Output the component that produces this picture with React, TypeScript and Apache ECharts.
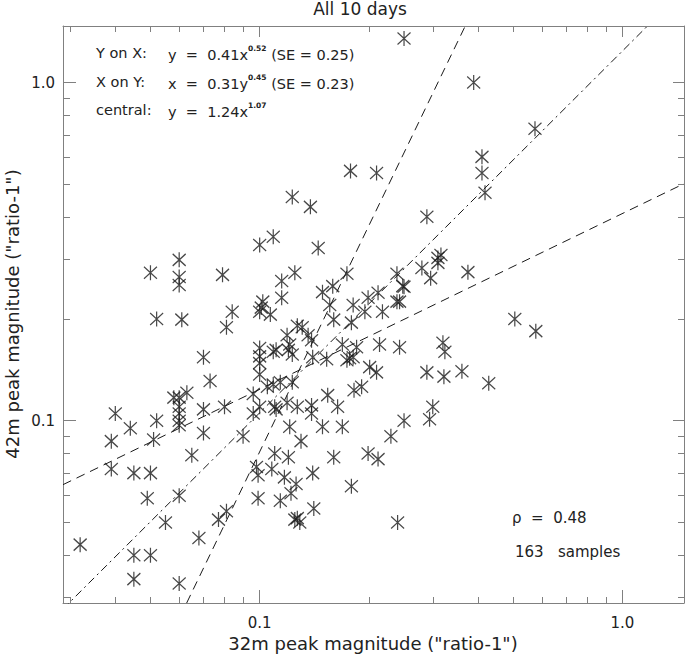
import React, { useEffect, useRef } from 'react';
import * as echarts from 'echarts';

// Axis ranges (log-log)
const X_MIN = 0.0287;
const X_MAX = 1.478;
const Y_MIN = 0.0289;
const Y_MAX = 1.47;

const majorTicks = [0.1, 1.0];
const majorTickLabels = ['0.1', '1.0'];
const minorTicks = [0.03, 0.04, 0.05, 0.06, 0.07, 0.08, 0.09, 0.2, 0.3, 0.4, 0.5, 0.6, 0.7, 0.8, 0.9];

// 163 samples: 32m peak magnitude (x) and 42m peak magnitude (y)
const x32m = [
  0.250, 0.389, 0.574, 0.410, 0.410, 0.418, 0.178, 0.210, 0.123, 0.138,
  0.289, 0.100, 0.109, 0.145, 0.310, 0.310, 0.280, 0.296, 0.375, 0.250,
  0.243, 0.505, 0.577, 0.320, 0.324, 0.289, 0.322, 0.361, 0.428, 0.300,
  0.294, 0.250, 0.230, 0.199, 0.212, 0.179, 0.240, 0.243, 0.050, 0.060,
  0.060, 0.060, 0.079, 0.052, 0.061, 0.081, 0.084, 0.125, 0.115, 0.115,
  0.102, 0.100, 0.107, 0.174, 0.159, 0.149, 0.156, 0.160, 0.181, 0.179,
  0.195, 0.199, 0.212, 0.218, 0.239, 0.248, 0.239, 0.127, 0.131, 0.119,
  0.136, 0.139, 0.100, 0.100, 0.100, 0.100, 0.109, 0.120, 0.123, 0.140,
  0.153, 0.169, 0.185, 0.174, 0.181, 0.214, 0.201, 0.210, 0.114, 0.109,
  0.123, 0.105, 0.096, 0.154, 0.182, 0.191, 0.100, 0.110, 0.111, 0.119,
  0.127, 0.139, 0.139, 0.164, 0.096, 0.121, 0.149, 0.169, 0.090, 0.130,
  0.110, 0.120, 0.160, 0.098, 0.099, 0.108, 0.117, 0.126, 0.140, 0.122,
  0.099, 0.114, 0.141, 0.125, 0.129, 0.040, 0.039, 0.044, 0.039, 0.045,
  0.050, 0.051, 0.052, 0.049, 0.060, 0.055, 0.045, 0.050, 0.045, 0.060,
  0.068, 0.077, 0.081, 0.065, 0.070, 0.070, 0.080, 0.070, 0.073, 0.058,
  0.060, 0.063, 0.060, 0.060, 0.060, 0.060, 0.032, 0.316, 0.127, 0.121,
  0.111, 0.101, 0.177,
];
const y42m = [
  1.35, 1.00, 0.730, 0.603, 0.540, 0.472, 0.548, 0.540, 0.459, 0.429,
  0.401, 0.331, 0.350, 0.324, 0.303, 0.293, 0.283, 0.264, 0.275, 0.249,
  0.225, 0.200, 0.184, 0.170, 0.160, 0.139, 0.135, 0.140, 0.129, 0.110,
  0.101, 0.100, 0.090, 0.080, 0.077, 0.064, 0.050, 0.165, 0.274, 0.299,
  0.266, 0.252, 0.270, 0.200, 0.199, 0.189, 0.210, 0.274, 0.259, 0.231,
  0.225, 0.210, 0.206, 0.272, 0.250, 0.240, 0.220, 0.199, 0.220, 0.195,
  0.210, 0.231, 0.239, 0.210, 0.272, 0.250, 0.225, 0.191, 0.189, 0.179,
  0.179, 0.173, 0.164, 0.155, 0.148, 0.137, 0.160, 0.162, 0.157, 0.154,
  0.152, 0.168, 0.165, 0.151, 0.154, 0.168, 0.144, 0.139, 0.130, 0.128,
  0.130, 0.126, 0.120, 0.119, 0.123, 0.126, 0.110, 0.110, 0.108, 0.113,
  0.110, 0.111, 0.105, 0.110, 0.105, 0.096, 0.096, 0.096, 0.090, 0.087,
  0.080, 0.078, 0.078, 0.073, 0.069, 0.072, 0.068, 0.065, 0.070, 0.061,
  0.059, 0.058, 0.055, 0.051, 0.050, 0.105, 0.087, 0.095, 0.072, 0.070,
  0.070, 0.088, 0.100, 0.059, 0.060, 0.050, 0.040, 0.040, 0.034, 0.033,
  0.045, 0.051, 0.054, 0.079, 0.092, 0.108, 0.110, 0.154, 0.131, 0.117,
  0.117, 0.121, 0.110, 0.105, 0.100, 0.097, 0.043, 0.309, 0.0515, 0.168,
  0.162, 0.216, 0.153,
];

// Fitted power laws
const fitYonX = { a: 0.41, b: 0.52 }; // y = a x^b
const fitXonY = { a: 0.31, b: 0.45 }; // x = a y^b
const fitCentral = { a: 1.24, b: 1.07 }; // y = a x^b

const rho = '0.48';
const nSamples = 163;

const FONT = '"DejaVu Sans", "Noto Sans", sans-serif';
const AXIS_COLOR = '#808080';
const TEXT_COLOR = '#222';
const MARK_COLOR = '#1a1a1a';

const log10 = (v: number) => Math.log10(v);

function labelFor(v: number): string {
  for (let i = 0; i < majorTicks.length; i++) {
    if (Math.abs(log10(majorTicks[i]) - v) < 1e-6) return majorTickLabels[i];
  }
  return '';
}

function decoAxis(pos: string, min: number, max: number, ticks: number[], len: number, withLine: boolean, labelMargin: number | null) {
  return {
    type: 'value',
    position: pos,
    gridIndex: 0,
    min: log10(min),
    max: log10(max),
    silent: true,
    splitLine: { show: false },
    axisLine: { show: withLine, onZero: false, lineStyle: { color: AXIS_COLOR, width: 1 } },
    axisTick: {
      show: true,
      inside: true,
      length: len,
      customValues: ticks.map(log10),
      lineStyle: { color: AXIS_COLOR, width: 1 },
    },
    axisLabel:
      labelMargin !== null
        ? {
            show: true,
            customValues: majorTicks.map(log10),
            formatter: (v: number) => labelFor(v),
            margin: labelMargin,
            fontSize: 15,
            fontFamily: FONT,
            color: TEXT_COLOR,
          }
        : { show: false },
  };
}

const ASTERISK = 'path://M6.5,0L6.5,15M0,1.5L13,13.5M0,13.5L13,1.5';

export default function App() {
  const ref = useRef<HTMLDivElement>(null);

  useEffect(() => {
    if (!ref.current) return;
    const chart = echarts.init(ref.current, null, { renderer: 'svg' });

    const points = x32m.map((x, i) => [x, y42m[i]]);
    const yOnX = [X_MIN, X_MAX].map((x) => [x, fitYonX.a * Math.pow(x, fitYonX.b)]);
    const xOnY = [Y_MIN, Y_MAX].map((y) => [fitXonY.a * Math.pow(y, fitXonY.b), y]);
    const central = [X_MIN, X_MAX].map((x) => [x, fitCentral.a * Math.pow(x, fitCentral.b)]);

    const txt = (x: number, y: number, text: string, size = 15, align = 'left') => ({
      type: 'text',
      x,
      y,
      silent: true,
      style: {
        text,
        font: `${size}px ${FONT}`,
        fill: TEXT_COLOR,
        align,
        textAlign: align,
        verticalAlign: 'middle',
        textVerticalAlign: 'middle',
      },
    });

    const richTxt = (x: number, y: number, before: string, sup: string, after: string) => ({
      type: 'text',
      x,
      y,
      silent: true,
      style: {
        text: `{m|${before}}{s|${sup}}{m|${after}}`,
        align: 'left',
        textAlign: 'left',
        verticalAlign: 'middle',
        textVerticalAlign: 'middle',
        rich: {
          m: { fontSize: 14.5, fontFamily: FONT, fill: TEXT_COLOR, color: TEXT_COLOR, lineHeight: 18, verticalAlign: 'bottom' },
          s: { fontSize: 7.5, fontFamily: FONT, fontWeight: 'bold', fill: TEXT_COLOR, color: TEXT_COLOR, lineHeight: 18, verticalAlign: 'top' },
        },
      },
    });

    chart.setOption({
      animation: false,
      backgroundColor: '#fff',
      grid: { left: 63, right: 1, top: 26, bottom: 53, containLabel: false },
      xAxis: [
        {
          type: 'log',
          logBase: 10,
          min: X_MIN,
          max: X_MAX,
          gridIndex: 0,
          show: false,
          splitLine: { show: false },
          axisLine: { onZero: false },
        },
        decoAxis('bottom', X_MIN, X_MAX, majorTicks, 13, true, 12),
        decoAxis('bottom', X_MIN, X_MAX, minorTicks, 6, false, null),
        decoAxis('top', X_MIN, X_MAX, majorTicks, 11, true, null),
        decoAxis('top', X_MIN, X_MAX, minorTicks, 6, false, null),
      ],
      yAxis: [
        {
          type: 'log',
          logBase: 10,
          min: Y_MIN,
          max: Y_MAX,
          gridIndex: 0,
          show: false,
          splitLine: { show: false },
          axisLine: { onZero: false },
        },
        decoAxis('left', Y_MIN, Y_MAX, majorTicks, 13, true, 8),
        decoAxis('left', Y_MIN, Y_MAX, minorTicks, 7, false, null),
        decoAxis('right', Y_MIN, Y_MAX, majorTicks, 11, true, null),
        decoAxis('right', Y_MIN, Y_MAX, minorTicks, 6, false, null),
      ],
      series: [
        {
          name: 'Y on X',
          type: 'line',
          xAxisIndex: 0,
          yAxisIndex: 0,
          data: yOnX,
          symbol: 'none',
          silent: true,
          clip: true,
          lineStyle: { color: MARK_COLOR, width: 1, type: [9, 6] },
        },
        {
          name: 'X on Y',
          type: 'line',
          xAxisIndex: 0,
          yAxisIndex: 0,
          data: xOnY,
          symbol: 'none',
          silent: true,
          clip: true,
          lineStyle: { color: MARK_COLOR, width: 1, type: [9, 6] },
        },
        {
          name: 'central',
          type: 'line',
          xAxisIndex: 0,
          yAxisIndex: 0,
          data: central,
          symbol: 'none',
          silent: true,
          clip: true,
          lineStyle: { color: MARK_COLOR, width: 1, type: [8, 4, 2, 4] },
        },
        {
          name: 'samples',
          type: 'scatter',
          xAxisIndex: 0,
          yAxisIndex: 0,
          data: points,
          symbol: ASTERISK,
          symbolSize: [13, 15],
          silent: true,
          itemStyle: { color: 'rgba(0,0,0,0)', borderColor: MARK_COLOR, borderWidth: 1.3 },
        },
      ],
      graphic: [
        txt(360, 9, 'All 10 days', 17, 'center'),
        txt(96, 53, 'Y on X:', 14.5),
        richTxt(168, 53, 'y  =  0.41x', '0.52', ' (SE = 0.25)'),
        txt(96, 82, 'X on Y:', 14.5),
        richTxt(168, 82, 'x  =  0.31y', '0.45', ' (SE = 0.23)'),
        txt(96, 110, 'central:', 14.5),
        richTxt(168, 110, 'y  =  1.24x', '1.07', ''),
        txt(512, 518, `\u03c1  =  ${rho}`),
        txt(515, 552, `${nSamples}   samples`),
        txt(373, 643, '32m peak magnitude ("ratio-1")', 18, 'center'),
        {
          type: 'text',
          x: 12,
          y: 314,
          rotation: Math.PI / 2,
          silent: true,
          style: {
            text: '42m peak magnitude ("ratio-1")',
            font: `18px ${FONT}`,
            fill: TEXT_COLOR,
            align: 'center',
            textAlign: 'center',
            verticalAlign: 'middle',
            textVerticalAlign: 'middle',
          },
        },
      ],
    });

    return () => chart.dispose();
  }, []);

  return (
    <div
      ref={ref}
      style={{ position: 'absolute', left: 0, top: 0, width: 685, height: 656, background: '#fff' }}
    />
  );
}
